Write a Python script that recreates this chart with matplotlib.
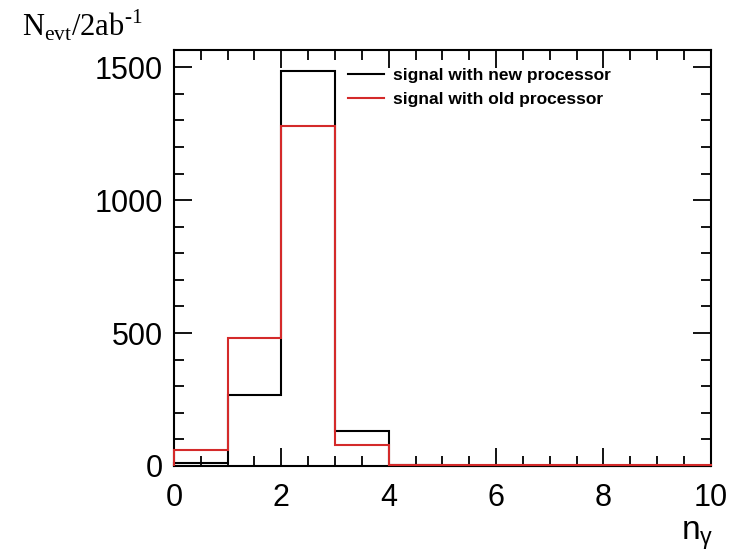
import matplotlib.pyplot as plt
import numpy as np
from matplotlib.ticker import MultipleLocator

edges = np.arange(0, 11)
new_proc = [10, 266, 1485, 132, 5, 0, 0, 0, 0, 0]
old_proc = [60, 481, 1278, 79, 3, 2, 2, 2, 2, 2]

plt.rcParams['font.family'] = ['Liberation Sans', 'DejaVu Sans']

fig = plt.figure(figsize=(7.35, 5.56), dpi=100)
ax = fig.add_axes([0.2367, 0.162, 0.7303, 0.748])

ax.stairs(new_proc, edges, color='black', lw=1.5, zorder=3, clip_on=False,
          label='signal with new processor')
ax.stairs(old_proc, edges, color='#d42a2a', lw=1.5, zorder=3.1, clip_on=False,
          label='signal with old processor')

ax.set_xlim(0, 10)
ax.set_ylim(0, 1565)
ax.xaxis.set_major_locator(MultipleLocator(2))
ax.xaxis.set_minor_locator(MultipleLocator(0.5))
ax.yaxis.set_major_locator(MultipleLocator(500))
ax.yaxis.set_minor_locator(MultipleLocator(100))
ax.tick_params(which='both', direction='in', top=True, right=True, labelsize=22, width=1.3)
ax.tick_params(which='major', length=13, pad=8)
ax.tick_params(axis='x', which='major', pad=12)
ax.tick_params(which='minor', length=7)
for s in ax.spines.values():
    s.set_linewidth(1.5)

ax.legend(loc='upper left', bbox_to_anchor=(0.295, 0.995), frameon=False,
          prop={'weight': 'bold', 'size': 12.5}, handlelength=2.1, handletextpad=0.5,
          labelspacing=0.5)

fig.text(0.03, 0.955, 'N$_{\\mathregular{evt}}$/2ab$^{\\mathregular{\u20101}}$',
         family='Liberation Serif', fontsize=22, va='center', ha='left')
fig.text(0.927, 0.037, 'n$_{\\mathregular{\u03b3}}$', fontsize=24, va='center', ha='left')

fig.savefig('out.png', dpi=100)
